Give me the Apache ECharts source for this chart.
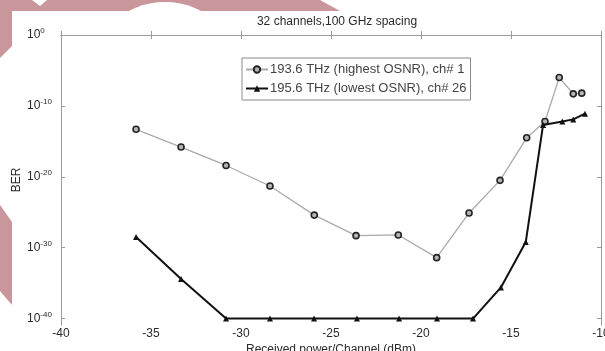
<!DOCTYPE html>
<html>
<head>
<meta charset="utf-8">
<script src="https://cdn.jsdelivr.net/npm/echarts@6/dist/echarts.min.js"></script>
<style>
  html, body { margin: 0; padding: 0; background: #fff; }
  #chart { width: 605px; height: 351px; }
</style>
</head>
<body>
<div id="chart"></div>
<script>
// received power per channel (dBm) and log10(BER)
const powerCh1 = [-35.83, -33.33, -30.83, -28.39, -25.93, -23.61, -21.26, -19.13, -17.33, -15.61, -14.13, -13.11, -12.32, -11.54, -11.07];
const logBerCh1 = [-13.3, -15.8, -18.4, -21.3, -25.4, -28.3, -28.2, -31.4, -25.1, -20.5, -14.5, -12.2, -6.0, -8.3, -8.2];
const powerCh26 = [-35.83, -33.33, -30.83, -28.39, -25.94, -23.56, -21.22, -19.11, -17.11, -15.56, -14.18, -13.22, -12.15, -11.54, -10.89];
const logBerCh26 = [-28.5, -34.4, -40, -40, -40, -40, -40, -40, -40, -35.6, -29.2, -12.7, -12.2, -11.9, -11.1];
const yTicks = [0, -10, -20, -30, -40];
const seriesNames = ['193.6 THz (highest OSNR), ch# 1', '195.6 THz (lowest OSNR), ch# 26'];

const pink = '#c9979b';
const axisGrey = '#9a9a9a';
const textColor = '#2a2a2a';
const font = 'Liberation Sans, Arial, sans-serif';

const chart = echarts.init(document.getElementById('chart'), null, { renderer: 'canvas' });

const tickStyle = { inside: true, length: 4, lineStyle: { color: axisGrey } };

chart.setOption({
  backgroundColor: '#fff',
  animation: false,
  textStyle: { fontFamily: font },
  title: {
    text: '32 channels,100 GHz spacing',
    left: 332,
    top: 11,
    textAlign: 'center',
    textStyle: { fontSize: 12, fontWeight: 'normal', color: textColor, fontFamily: font }
  },
  grid: { left: 61, right: 4, top: 35, bottom: 26, outerBoundsMode: 'none' },
  legend: {
    left: 242,
    top: 58,
    orient: 'vertical',
    backgroundColor: '#fff',
    borderColor: '#8a8a8a',
    borderWidth: 1,
    padding: [5, 4, 5, 3],
    itemGap: 6,
    itemWidth: 22,
    itemHeight: 8,
    textStyle: { fontSize: 13, color: '#444', fontFamily: font, padding: [0, 0, 0, -3] },
    data: seriesNames
  },
  xAxis: [{
    type: 'value',
    min: -40,
    max: -10,
    interval: 5,
    name: 'Received power/Channel (dBm)',
    nameLocation: 'middle',
    nameGap: 19,
    nameMoveOverlap: false,
    nameTextStyle: { fontSize: 12, color: textColor },
    axisLine: { show: true, lineStyle: { color: axisGrey } },
    axisTick: tickStyle,
    axisLabel: { fontSize: 12, color: textColor, margin: 3 },
    splitLine: { show: false }
  }, {
    type: 'value',
    position: 'top',
    min: -40,
    max: -10,
    interval: 5,
    axisLine: { show: true, lineStyle: { color: axisGrey } },
    axisTick: tickStyle,
    axisLabel: { show: false },
    splitLine: { show: false }
  }],
  yAxis: [{
    type: 'value',
    min: -40.9,
    max: 0,
    name: 'BER',
    nameLocation: 'middle',
    nameGap: 38,
    nameRotate: 90,
    nameMoveOverlap: false,
    nameTextStyle: { fontSize: 12, color: textColor },
    axisLine: { show: true, lineStyle: { color: axisGrey } },
    axisTick: Object.assign({ customValues: yTicks }, tickStyle),
    axisLabel: {
      customValues: yTicks,
      align: 'left',
      margin: 34,
      formatter: (v) => '{b|10}{s|' + v + '}',
      rich: {
        b: { fontSize: 12, color: textColor, fontFamily: font },
        s: { fontSize: 8, color: textColor, fontFamily: font, padding: [0, 0, 8, 0] }
      }
    },
    splitLine: { show: false }
  }, {
    type: 'value',
    position: 'right',
    min: -40.9,
    max: 0,
    axisLine: { show: true, lineStyle: { color: axisGrey } },
    axisTick: Object.assign({ customValues: yTicks }, tickStyle),
    axisLabel: { show: false },
    splitLine: { show: false }
  }],
  series: [{
    name: seriesNames[0],
    type: 'line',
    data: powerCh1.map((p, i) => [p, logBerCh1[i]]),
    symbol: 'circle',
    symbolSize: 6,
    lineStyle: { color: '#aaaaaa', width: 1.3 },
    itemStyle: { color: '#b5b5b5', borderColor: '#222', borderWidth: 1.6 },
    z: 3
  }, {
    name: seriesNames[1],
    type: 'line',
    data: powerCh26.map((p, i) => [p, logBerCh26[i]]),
    symbol: 'triangle',
    symbolSize: 6,
    lineStyle: { color: '#111', width: 2 },
    itemStyle: { color: '#111' },
    z: 4
  }],
  graphic: [
    // pink page watermark peeking round the figure
    { type: 'polygon', z: -10, shape: { points: [[0, 0], [320, 0], [340, 11], [12, 11], [12, 46], [0, 58]] }, style: { fill: pink } },
    { type: 'polygon', z: -10, shape: { points: [[0, 205], [12, 222], [12, 305], [0, 291]] }, style: { fill: pink } },
    { type: 'circle', z: -9, shape: { cx: 165, cy: 80, r: 78 }, style: { fill: '#fff' } },
    { type: 'polygon', z: -9, shape: { points: [[32, 0], [47, 0], [40, 6]] }, style: { fill: '#fff' } }
  ]
});
</script>
</body>
</html>
